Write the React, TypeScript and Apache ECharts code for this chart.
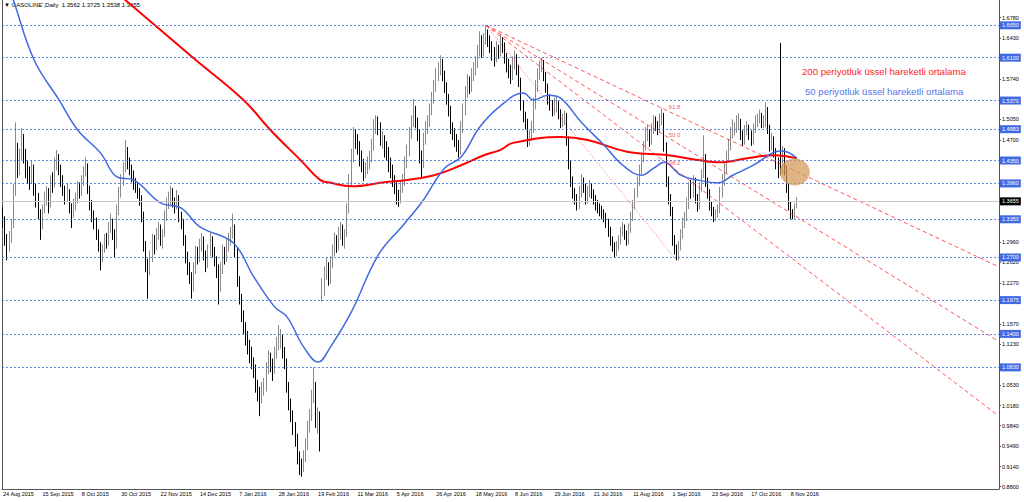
import React, { useEffect, useRef } from 'react';
import * as echarts from 'echarts';

// ---------- data ----------
const dateLabels = [
  '24 Aug 2015', '15 Sep 2015', '8 Oct 2015', '30 Oct 2015', '22 Nov 2015', '14 Dec 2015',
  '7 Jan 2016', '28 Jan 2016', '19 Feb 2016', '11 Mar 2016', '5 Apr 2016', '26 Apr 2016',
  '18 May 2016', '8 Jun 2016', '29 Jun 2016', '21 Jul 2016', '11 Aug 2016', '1 Sep 2016',
  '23 Sep 2016', '17 Oct 2016', '8 Nov 2016',
];
const LABEL_STEP = 19;
const TOTAL_SLOTS = 481;

// daily bars: [open, high, low, close]
const ohlc: number[][] = [
  [1.345,1.355,1.320,1.330],[1.330,1.340,1.290,1.300],[1.300,1.310,1.265,1.285],[1.285,1.315,1.280,1.300],
  [1.300,1.335,1.295,1.325],[1.325,1.395,1.320,1.380],[1.380,1.500,1.375,1.450],[1.450,1.465,1.405,1.420],
  [1.420,1.455,1.410,1.440],[1.440,1.490,1.435,1.470],[1.470,1.480,1.430,1.445],[1.445,1.455,1.405,1.420],
  [1.420,1.435,1.395,1.410],[1.410,1.425,1.385,1.400],[1.400,1.435,1.395,1.420],[1.420,1.428,1.375,1.385],
  [1.385,1.395,1.355,1.370],[1.370,1.380,1.335,1.345],[1.345,1.352,1.300,1.325],[1.325,1.360,1.318,1.350],
  [1.350,1.382,1.345,1.370],[1.370,1.392,1.358,1.380],[1.380,1.388,1.345,1.360],[1.360,1.410,1.355,1.400],
  [1.400,1.415,1.380,1.395],[1.395,1.440,1.390,1.425],[1.425,1.453,1.418,1.440],[1.440,1.446,1.410,1.420],
  [1.420,1.428,1.390,1.400],[1.400,1.410,1.375,1.385],[1.385,1.392,1.360,1.370],[1.370,1.395,1.365,1.380],
  [1.380,1.386,1.345,1.355],[1.355,1.362,1.320,1.345],[1.345,1.370,1.338,1.360],[1.360,1.380,1.350,1.370],
  [1.370,1.400,1.362,1.390],[1.390,1.398,1.370,1.380],[1.380,1.410,1.375,1.400],[1.400,1.425,1.392,1.415],
  [1.415,1.440,1.408,1.425],[1.425,1.430,1.378,1.385],[1.385,1.392,1.350,1.360],[1.360,1.368,1.330,1.340],
  [1.340,1.350,1.318,1.330],[1.330,1.338,1.300,1.310],[1.310,1.318,1.280,1.290],[1.290,1.296,1.248,1.270],
  [1.270,1.292,1.262,1.285],[1.285,1.310,1.278,1.300],[1.300,1.312,1.285,1.295],[1.295,1.330,1.290,1.320],
  [1.320,1.345,1.312,1.330],[1.330,1.336,1.300,1.310],[1.310,1.318,1.270,1.290],[1.290,1.360,1.285,1.350],
  [1.350,1.390,1.342,1.380],[1.380,1.412,1.372,1.400],[1.400,1.432,1.392,1.420],[1.420,1.470,1.415,1.450],
  [1.450,1.458,1.420,1.430],[1.430,1.440,1.410,1.420],[1.420,1.428,1.398,1.410],[1.410,1.418,1.385,1.395],
  [1.395,1.405,1.380,1.390],[1.390,1.398,1.370,1.380],[1.380,1.388,1.358,1.370],[1.370,1.376,1.330,1.340],
  [1.340,1.348,1.280,1.290],[1.290,1.298,1.245,1.260],[1.260,1.268,1.200,1.250],[1.250,1.282,1.240,1.270],
  [1.270,1.310,1.262,1.300],[1.300,1.308,1.275,1.290],[1.290,1.320,1.282,1.310],[1.310,1.330,1.300,1.320],
  [1.320,1.326,1.290,1.300],[1.300,1.318,1.285,1.310],[1.310,1.350,1.305,1.340],[1.340,1.372,1.332,1.360],
  [1.360,1.382,1.352,1.370],[1.370,1.392,1.360,1.380],[1.380,1.388,1.355,1.365],[1.365,1.372,1.345,1.360],
  [1.360,1.385,1.352,1.370],[1.370,1.376,1.330,1.340],[1.340,1.348,1.318,1.330],[1.330,1.336,1.290,1.300],
  [1.300,1.308,1.260,1.270],[1.270,1.280,1.240,1.250],[1.250,1.262,1.225,1.235],[1.235,1.245,1.200,1.220],
  [1.220,1.262,1.212,1.250],[1.250,1.290,1.242,1.280],[1.280,1.288,1.258,1.270],[1.270,1.302,1.262,1.290],
  [1.290,1.312,1.280,1.300],[1.300,1.306,1.265,1.275],[1.275,1.282,1.245,1.260],[1.260,1.292,1.252,1.280],
  [1.280,1.312,1.272,1.300],[1.300,1.306,1.270,1.280],[1.280,1.288,1.255,1.265],[1.265,1.272,1.235,1.250],
  [1.250,1.258,1.190,1.220],[1.220,1.262,1.212,1.250],[1.250,1.292,1.242,1.280],[1.280,1.288,1.258,1.270],
  [1.270,1.302,1.262,1.290],[1.290,1.312,1.280,1.300],[1.300,1.322,1.290,1.310],[1.310,1.345,1.302,1.320],
  [1.320,1.326,1.270,1.280],[1.280,1.286,1.220,1.230],[1.230,1.238,1.190,1.200],[1.200,1.208,1.160,1.170],
  [1.170,1.180,1.140,1.150],[1.150,1.160,1.120,1.135],[1.135,1.145,1.105,1.120],[1.120,1.130,1.090,1.100],
  [1.100,1.118,1.080,1.090],[1.090,1.100,1.065,1.080],[1.080,1.088,1.040,1.050],[1.050,1.062,1.025,1.040],
  [1.040,1.050,1.000,1.030],[1.030,1.058,1.022,1.045],[1.045,1.065,1.035,1.050],[1.050,1.092,1.042,1.080],
  [1.080,1.112,1.072,1.100],[1.100,1.108,1.075,1.090],[1.090,1.098,1.060,1.080],[1.080,1.118,1.072,1.105],
  [1.105,1.135,1.098,1.120],[1.120,1.155,1.112,1.130],[1.130,1.148,1.115,1.130],[1.130,1.138,1.098,1.110],
  [1.110,1.118,1.080,1.090],[1.090,1.098,1.040,1.050],[1.050,1.058,1.010,1.020],[1.020,1.030,0.990,1.000],
  [1.000,1.010,0.968,0.980],[0.980,0.990,0.948,0.960],[0.960,0.970,0.918,0.930],[0.930,0.940,0.900,0.915],
  [0.915,0.928,0.897,0.910],[0.910,0.942,0.905,0.930],[0.930,0.962,0.922,0.950],[0.950,0.992,0.942,0.980],
  [0.980,1.012,0.972,1.000],[1.000,1.045,0.992,1.030],[1.030,1.083,1.022,1.050],[1.050,1.058,0.980,0.990],
  [0.990,1.015,0.970,1.000],[1.000,1.008,0.940,0.965],[1.200,1.235,1.195,1.210],[1.210,1.255,1.205,1.240],
  [1.240,1.270,1.232,1.250],[1.250,1.262,1.222,1.230],[1.230,1.272,1.225,1.260],[1.260,1.292,1.252,1.280],
  [1.280,1.312,1.272,1.300],[1.300,1.308,1.278,1.290],[1.290,1.322,1.282,1.310],[1.310,1.330,1.300,1.320],
  [1.320,1.326,1.290,1.300],[1.300,1.318,1.285,1.310],[1.310,1.362,1.305,1.350],[1.350,1.412,1.345,1.400],
  [1.400,1.455,1.392,1.440],[1.440,1.492,1.432,1.480],[1.480,1.488,1.455,1.470],[1.470,1.480,1.445,1.460],
  [1.460,1.468,1.425,1.440],[1.440,1.452,1.415,1.430],[1.430,1.438,1.400,1.415],[1.415,1.432,1.405,1.420],
  [1.420,1.442,1.412,1.430],[1.430,1.452,1.420,1.440],[1.440,1.472,1.432,1.460],[1.460,1.505,1.452,1.490],
  [1.490,1.512,1.480,1.500],[1.500,1.510,1.478,1.495],[1.495,1.500,1.460,1.470],[1.470,1.485,1.455,1.470],
  [1.470,1.478,1.440,1.455],[1.455,1.468,1.435,1.450],[1.450,1.458,1.415,1.430],[1.430,1.440,1.405,1.420],
  [1.420,1.428,1.390,1.400],[1.400,1.410,1.378,1.390],[1.390,1.398,1.360,1.375],[1.375,1.385,1.356,1.370],
  [1.370,1.400,1.362,1.390],[1.390,1.412,1.380,1.400],[1.400,1.442,1.392,1.430],[1.430,1.462,1.422,1.450],
  [1.450,1.492,1.442,1.480],[1.480,1.512,1.472,1.500],[1.500,1.540,1.492,1.520],[1.520,1.528,1.490,1.500],
  [1.500,1.508,1.468,1.480],[1.480,1.488,1.430,1.440],[1.440,1.452,1.405,1.430],[1.430,1.482,1.422,1.470],
  [1.470,1.502,1.462,1.490],[1.490,1.512,1.480,1.500],[1.500,1.532,1.492,1.520],[1.520,1.552,1.512,1.540],
  [1.540,1.572,1.532,1.560],[1.560,1.592,1.552,1.580],[1.580,1.602,1.570,1.590],[1.590,1.614,1.580,1.600],
  [1.600,1.608,1.570,1.580],[1.580,1.588,1.550,1.560],[1.560,1.568,1.530,1.540],[1.540,1.548,1.510,1.520],
  [1.520,1.528,1.480,1.490],[1.490,1.500,1.470,1.480],[1.480,1.490,1.458,1.470],[1.470,1.480,1.450,1.460],
  [1.460,1.470,1.440,1.450],[1.450,1.502,1.445,1.490],[1.490,1.532,1.482,1.520],[1.520,1.562,1.512,1.550],
  [1.550,1.582,1.542,1.570],[1.570,1.578,1.548,1.560],[1.560,1.592,1.552,1.580],[1.580,1.602,1.570,1.590],
  [1.590,1.612,1.580,1.600],[1.600,1.632,1.592,1.620],[1.620,1.655,1.612,1.640],[1.640,1.648,1.610,1.620],
  [1.620,1.652,1.612,1.640],[1.640,1.665,1.632,1.650],[1.650,1.658,1.628,1.640],[1.640,1.648,1.618,1.630],
  [1.630,1.638,1.605,1.620],[1.620,1.628,1.595,1.610],[1.610,1.638,1.602,1.625],[1.625,1.632,1.608,1.620],
  [1.620,1.650,1.612,1.635],[1.635,1.645,1.618,1.630],[1.630,1.636,1.600,1.610],[1.610,1.618,1.585,1.600],
  [1.600,1.608,1.575,1.590],[1.590,1.598,1.565,1.580],[1.580,1.612,1.572,1.600],[1.600,1.622,1.590,1.610],
  [1.610,1.616,1.580,1.590],[1.590,1.598,1.560,1.570],[1.570,1.576,1.520,1.530],[1.530,1.538,1.500,1.510],
  [1.510,1.518,1.488,1.500],[1.500,1.506,1.458,1.470],[1.470,1.488,1.460,1.475],[1.475,1.502,1.468,1.490],
  [1.490,1.542,1.482,1.530],[1.530,1.572,1.522,1.560],[1.560,1.592,1.552,1.580],[1.580,1.605,1.572,1.595],
  [1.595,1.610,1.585,1.600],[1.600,1.606,1.570,1.580],[1.580,1.586,1.550,1.560],[1.560,1.566,1.530,1.540],
  [1.540,1.548,1.520,1.530],[1.530,1.538,1.510,1.520],[1.520,1.542,1.512,1.530],[1.530,1.545,1.518,1.530],
  [1.530,1.536,1.505,1.515],[1.515,1.522,1.490,1.500],[1.500,1.515,1.492,1.505],[1.505,1.520,1.495,1.510],
  [1.510,1.516,1.460,1.470],[1.470,1.476,1.420,1.430],[1.430,1.436,1.390,1.400],[1.400,1.408,1.370,1.380],
  [1.380,1.388,1.360,1.370],[1.370,1.378,1.350,1.360],[1.360,1.392,1.352,1.380],[1.380,1.412,1.372,1.400],
  [1.400,1.406,1.380,1.390],[1.390,1.396,1.360,1.370],[1.370,1.392,1.362,1.380],[1.380,1.402,1.372,1.390],
  [1.390,1.396,1.370,1.380],[1.380,1.386,1.360,1.370],[1.370,1.376,1.350,1.360],[1.360,1.368,1.345,1.355],
  [1.355,1.362,1.340,1.350],[1.350,1.358,1.335,1.345],[1.345,1.352,1.330,1.340],[1.340,1.346,1.320,1.330],
  [1.330,1.336,1.305,1.315],[1.315,1.322,1.290,1.300],[1.300,1.306,1.280,1.290],[1.290,1.296,1.270,1.280],
  [1.280,1.298,1.272,1.290],[1.290,1.308,1.282,1.300],[1.300,1.322,1.292,1.315],[1.315,1.330,1.306,1.320],
  [1.320,1.326,1.300,1.310],[1.310,1.316,1.290,1.300],[1.300,1.328,1.292,1.320],[1.320,1.348,1.312,1.340],
  [1.340,1.368,1.332,1.360],[1.360,1.388,1.352,1.380],[1.380,1.408,1.372,1.400],[1.400,1.428,1.392,1.420],
  [1.420,1.448,1.412,1.440],[1.440,1.468,1.432,1.460],[1.460,1.492,1.452,1.480],[1.480,1.495,1.468,1.480],
  [1.480,1.488,1.458,1.470],[1.470,1.498,1.462,1.490],[1.490,1.512,1.480,1.500],[1.500,1.510,1.485,1.495],
  [1.495,1.502,1.478,1.490],[1.490,1.515,1.482,1.505],[1.505,1.524,1.495,1.510],[1.510,1.516,1.450,1.460],
  [1.460,1.466,1.390,1.400],[1.400,1.408,1.360,1.370],[1.370,1.378,1.340,1.350],[1.350,1.356,1.290,1.300],
  [1.300,1.308,1.275,1.285],[1.285,1.292,1.265,1.270],[1.270,1.298,1.265,1.290],[1.290,1.318,1.282,1.310],
  [1.310,1.338,1.302,1.330],[1.330,1.348,1.320,1.340],[1.340,1.372,1.332,1.360],[1.360,1.398,1.352,1.390],
  [1.390,1.402,1.370,1.380],[1.380,1.410,1.372,1.400],[1.400,1.406,1.362,1.370],[1.370,1.378,1.348,1.360],
  [1.360,1.398,1.352,1.390],[1.390,1.420,1.382,1.410],[1.410,1.478,1.405,1.440],[1.440,1.446,1.390,1.400],
  [1.400,1.406,1.370,1.380],[1.380,1.386,1.350,1.360],[1.360,1.366,1.340,1.350],[1.350,1.356,1.330,1.340],
  [1.340,1.352,1.332,1.345],[1.345,1.360,1.338,1.350],[1.350,1.390,1.345,1.380],[1.380,1.412,1.372,1.400],
  [1.400,1.432,1.392,1.420],[1.420,1.452,1.412,1.440],[1.440,1.472,1.432,1.460],[1.460,1.492,1.452,1.480],
  [1.480,1.505,1.472,1.490],[1.490,1.500,1.478,1.490],[1.490,1.512,1.482,1.500],[1.500,1.515,1.488,1.500],
  [1.500,1.506,1.470,1.480],[1.480,1.486,1.460,1.470],[1.470,1.495,1.462,1.485],[1.485,1.502,1.478,1.490],
  [1.490,1.496,1.470,1.480],[1.480,1.486,1.460,1.470],[1.470,1.498,1.462,1.490],[1.490,1.512,1.482,1.500],
  [1.500,1.515,1.492,1.505],[1.505,1.522,1.498,1.510],[1.510,1.516,1.490,1.500],[1.500,1.512,1.490,1.500],
  [1.500,1.534,1.492,1.520],[1.520,1.526,1.480,1.490],[1.490,1.496,1.450,1.460],[1.460,1.482,1.452,1.470],
  [1.470,1.476,1.440,1.450],[1.450,1.456,1.420,1.430],[1.430,1.440,1.405,1.420],[1.600,1.635,1.410,1.420],
  [1.420,1.460,1.412,1.450],[1.450,1.456,1.410,1.420],[1.420,1.426,1.380,1.390],[1.390,1.396,1.350,1.360],
  [1.360,1.366,1.335,1.345],[1.345,1.352,1.335,1.340],[1.340,1.362,1.336,1.3562],[1.3562,1.3725,1.3538,1.3655],
];

// moving averages: [bar index, price]
const ema50: number[][] = [
  [0,1.760],[5,1.708],[15,1.606],[27,1.538],[36,1.487],[47,1.448],[55,1.407],[63,1.402],[76,1.363],
  [86,1.354],[95,1.322],[111,1.295],[121,1.237],[131,1.186],[137,1.169],[145,1.118],[152,1.092],
  [158,1.118],[168,1.177],[181,1.274],[193,1.325],[202,1.364],[213,1.422],[221,1.441],[230,1.492],
  [240,1.528],[251,1.550],[256,1.538],[263,1.546],[269,1.541],[279,1.500],[290,1.461],[299,1.427],
  [308,1.410],[314,1.422],[319,1.432],[327,1.410],[335,1.402],[345,1.397],[352,1.410],[362,1.427],
  [372,1.449],[376,1.451],[383,1.439],
];
const ema200: number[][] = [
  [50,1.735],[59,1.708],[93,1.606],[116,1.538],[129,1.487],[144,1.434],[153,1.402],[158,1.397],
  [168,1.391],[184,1.398],[195,1.402],[208,1.410],[221,1.427],[232,1.444],[240,1.453],[246,1.465],
  [269,1.475],[282,1.470],[301,1.450],[321,1.444],[335,1.436],[346,1.432],[359,1.439],[372,1.444],
  [383,1.439],
];

const levels = [1.665, 1.61, 1.537, 1.4883, 1.435, 1.396, 1.335, 1.27, 1.1975, 1.14, 1.083];
const lastPrice = 1.3655;
const priceTicks = [
  1.678, 1.643, 1.574, 1.505, 1.47, 1.296, 1.262, 1.227, 1.157, 1.123, 1.053, 1.018, 0.984, 0.949, 0.914, 0.88,
];
const fanA = [233, 1.665];
const fanB = [325, 1.265];
const fanLevels = [38.2, 50.0, 61.8];
const circleAt = [382, 1.4155];
const Y_MIN = 0.8761;
const Y_MAX = 1.7081;

const FONT = '"Liberation Sans", Arial, sans-serif';

export default function App() {
  const ref = useRef<HTMLDivElement>(null);
  useEffect(() => {
    if (!ref.current) return;
    const chart = echarts.init(ref.current, null, { renderer: 'svg' });
    const categories = Array.from({ length: TOTAL_SLOTS }, (_, i) =>
      i % LABEL_STEP === 0 && i / LABEL_STEP < dateLabels.length ? dateLabels[i / LABEL_STEP] : 'b' + i
    );
    const showLabel = (i: number) => i % LABEL_STEP === 0 && i / LABEL_STEP < dateLabels.length;
    const lastIdx = TOTAL_SLOTS - 1;

    const fanSeries: any[] = fanLevels.map((lv) => {
      const pL = fanB[1] + (lv / 100) * (fanA[1] - fanB[1]);
      const slope = (pL - fanA[1]) / (fanB[0] - fanA[0]);
      const pEnd = fanA[1] + slope * (lastIdx - fanA[0]);
      return {
        type: 'line', data: [[fanA[0], fanA[1]], [lastIdx, pEnd]], showSymbol: false, silent: true,
        lineStyle: { color: 'rgba(255,30,30,0.75)', width: 1, type: [4, 3] }, z: 3,
      };
    });
    const fanLabels = {
      type: 'scatter', symbolSize: 0, silent: true, z: 4,
      data: fanLevels.map((lv) => [fanB[0], fanB[1] + (lv / 100) * (fanA[1] - fanB[1]), lv.toFixed(1)]),
      label: {
        show: true, position: [-8, -11], formatter: (p: any) => p.value[2],
        color: '#ff2a2a', fontSize: 6, fontFamily: FONT,
      },
    };
    const levelColor = 'rgba(65,105,225,0.8)';

    chart.setOption({
      animation: false,
      backgroundColor: '#ffffff',
      grid: { left: 2, right: 25, top: 0, bottom: 13, containLabel: false },
      xAxis: {
        type: 'category', data: categories, boundaryGap: true,
        axisLine: { lineStyle: { color: '#555', width: 1 } },
        axisTick: { interval: showLabel, alignWithLabel: true, length: 3, lineStyle: { color: '#555' } },
        axisLabel: {
          interval: showLabel, align: 'left', margin: 2, fontSize: 5.5, color: '#000', fontFamily: FONT,
        },
        splitLine: { show: false },
      },
      yAxis: [
        {
          type: 'value', position: 'right', min: Y_MIN, max: Y_MAX, scale: true,
          axisLine: { show: true, lineStyle: { color: '#555', width: 1 } },
          axisTick: { show: true, customValues: priceTicks, length: 2, inside: false, lineStyle: { color: '#555' } },
          axisLabel: {
            customValues: priceTicks, formatter: (v: number) => v.toFixed(4), margin: 3,
            fontSize: 5.5, color: '#000', fontFamily: FONT,
          },
          splitLine: { show: false },
        },
        {
          type: 'value', position: 'left', min: Y_MIN, max: Y_MAX, scale: true,
          axisLine: { show: true, lineStyle: { color: '#555', width: 1 } },
          axisTick: { show: false }, axisLabel: { show: false }, splitLine: { show: false },
        },
      ],
      graphic: [
        {
          type: 'text', left: 4, top: 2,
          style: { text: "▼ GASOLINE',Daily  1.3562 1.3725 1.3538 1.3655", fill: '#000', font: `6px ${FONT}` },
        },
        {
          type: 'text', left: 802, top: 66,
          style: { text: '200 periyotluk üssel hareketli ortalama', fill: '#ff2424', font: `9.6px ${FONT}` },
        },
        {
          type: 'text', left: 805, top: 86,
          style: { text: '50 periyotluk üssel hareketli ortalama', fill: '#5574ee', font: `9.6px ${FONT}` },
        },
      ],
      series: [
        {
          type: 'candlestick', data: ohlc.map((b) => [b[0], b[3], b[2], b[1]]),
          barWidth: 1, z: 2,
          itemStyle: { color: '#8a8a8a', borderColor: '#8a8a8a', color0: '#000', borderColor0: '#000', borderWidth: 1 },
          markLine: {
            silent: true, symbol: 'none', precision: 4,
            data: [
              ...levels.map((v) => ({
                yAxis: v,
                lineStyle: { color: levelColor, width: 1, type: [2, 2] },
                label: {
                  show: true, position: 'end', distance: 1, formatter: v.toFixed(4),
                  backgroundColor: '#4169e1', color: '#fff', padding: [1, 2, 1, 2],
                  fontSize: 5.5, fontFamily: FONT,
                },
              })),
              {
                yAxis: lastPrice,
                lineStyle: { color: '#c8c8c8', width: 1, type: 'solid' },
                label: {
                  show: true, position: 'end', distance: 1, formatter: lastPrice.toFixed(4),
                  backgroundColor: '#000', color: '#fff', padding: [1, 2, 1, 2],
                  fontSize: 5.5, fontFamily: FONT,
                },
              },
            ],
          },
          markPoint: {
            silent: true,
            data: [{ coord: circleAt, symbol: 'circle', symbolSize: [30, 27] }],
            itemStyle: { color: 'rgba(212,152,88,0.72)' },
            label: { show: false },
          },
        },
        {
          type: 'line', data: ema200, smooth: 0.4, showSymbol: false, silent: true, z: 3,
          lineStyle: { color: '#ff0000', width: 2 },
        },
        {
          type: 'line', data: ema50, smooth: 0.4, showSymbol: false, silent: true, z: 3,
          lineStyle: { color: '#4169e1', width: 1.5 },
        },
        ...fanSeries,
        {
          type: 'line', data: [[fanA[0], fanA[1]], [fanB[0], fanB[1]]], showSymbol: false, silent: true, z: 3,
          lineStyle: { color: 'rgba(255,30,30,0.75)', width: 1, type: [1, 2] },
        },
        fanLabels,
      ],
    });
    return () => chart.dispose();
  }, []);
  return <div ref={ref} style={{ position: 'fixed', left: 0, top: 0, width: 1024, height: 502 }} />;
}
